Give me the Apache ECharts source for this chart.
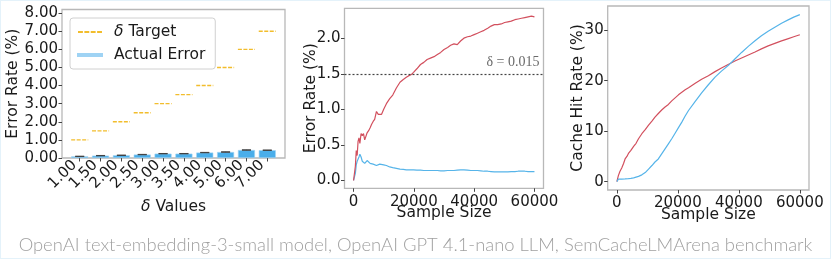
<!DOCTYPE html>
<html>
<head>
<meta charset="utf-8">
<script src="https://cdn.jsdelivr.net/npm/echarts@6/dist/echarts.min.js"></script>
<style>
html,body{margin:0;padding:0;background:#fff;}
#c{width:831px;height:259px;}
#frame{position:absolute;left:0;top:0;width:831px;height:259px;box-sizing:border-box;border:1px solid #e4f2fa;pointer-events:none;}
</style>
</head>
<body>
<div id="c"></div>
<div id="frame"></div>
<script>
// ---- Panel 1: error rate per delta ----
const deltaLabels = ['1.00','1.50','2.00','2.50','3.00','3.50','4.00','5.00','6.00','7.00'];
const deltaTargets = [1.0,1.5,2.0,2.5,3.0,3.5,4.0,5.0,6.0,7.0];
const actualError = [0.09,0.13,0.15,0.19,0.24,0.24,0.30,0.33,0.44,0.43];
const actualErrorStd = [0.01,0.01,0.01,0.01,0.01,0.01,0.01,0.01,0.01,0.01];
const yTicks1 = [0,1,2,3,4,5,6,7,8];

// ---- Panel 2: cumulative error rate vs sample size ----
const errSamples = [0,300,600,900,1200,1500,1800,2100,2500,2900,3300,3700,4100,4500,5000,5500,6000,6500,7000,7600,8200,8700,9300,10000,10900,12000,13000,14200,15400,16500,17500,18200,19200,19900,21000,22200,23300,24400,25500,26700,27800,28900,30000,31200,32200,33300,34400,35500,36600,37800,38900,40000,41100,42200,43300,44500,45600,46700,47800,49000,50100,51200,52300,53500,54600,55700,56800,57900,59000,60000];
const errRed = [0,0.02,0.2,0.42,0.35,0.55,0.6,0.52,0.66,0.63,0.66,0.57,0.62,0.67,0.70,0.74,0.79,0.83,0.86,0.97,0.93,0.95,0.93,1.0,1.08,1.15,1.2,1.3,1.38,1.42,1.45,1.47,1.49,1.52,1.57,1.63,1.66,1.70,1.72,1.74,1.77,1.80,1.84,1.87,1.90,1.92,1.91,1.96,2.0,2.02,2.03,2.05,2.07,2.09,2.11,2.14,2.17,2.19,2.19,2.20,2.22,2.23,2.24,2.26,2.27,2.28,2.29,2.30,2.31,2.30];
const errBlue = [0,0.0,0.1,0.22,0.27,0.26,0.33,0.37,0.33,0.27,0.28,0.24,0.24,0.28,0.26,0.24,0.22,0.23,0.22,0.21,0.22,0.23,0.235,0.22,0.21,0.19,0.18,0.17,0.16,0.155,0.15,0.15,0.15,0.15,0.145,0.145,0.14,0.14,0.14,0.14,0.14,0.135,0.135,0.14,0.14,0.14,0.145,0.15,0.15,0.145,0.14,0.14,0.14,0.135,0.13,0.13,0.125,0.12,0.12,0.12,0.12,0.12,0.125,0.125,0.13,0.13,0.13,0.125,0.125,0.125];
const deltaLine = 1.5;
const deltaLineLabel = 'δ = 0.015';
const yTicks2 = [0,0.5,1.0,1.5,2.0];
const xTicks = [0,20000,40000,60000];

// ---- Panel 3: cache hit rate vs sample size ----
const hitSamples = [0,500,1000,1600,2200,2700,3300,3800,4600,5500,6300,7100,8200,9300,10400,11500,12500,13600,14700,15800,16900,18000,19100,20200,21300,22400,23500,25700,27800,30000,32200,34300,36500,38700,40900,43100,45300,47400,49600,51800,54000,56000,58000,60000];
const hitRed = [0,1.2,2.0,2.7,3.6,4.5,5.0,5.6,6.2,7.0,7.6,8.5,9.5,10.3,11.2,12.0,12.8,13.5,14.2,14.8,15.3,16.0,16.6,17.2,17.7,18.2,18.6,19.5,20.3,21.0,21.8,22.5,23.2,23.9,24.5,25.1,25.7,26.3,26.9,27.4,27.9,28.3,28.7,29.1];
const hitBlue = [0,0.5,0.5,0.52,0.53,0.55,0.58,0.6,0.65,0.75,0.9,1.05,1.35,1.8,2.5,3.2,3.9,4.5,5.5,6.5,7.5,8.5,9.6,10.7,11.8,13.0,14.1,15.9,17.6,19.2,20.7,21.9,23.0,24.3,25.6,26.8,27.9,28.9,29.8,30.6,31.4,32.0,32.6,33.1];
const yTicks3 = [0,10,20,30];

const footnote = 'OpenAI text-embedding-3-small model, OpenAI GPT 4.1-nano LLM, SemCacheLMArena benchmark';

const RED = '#d2505e', BLUE = '#56b4e9', GOLD = '#f2bd2c', BARBLUE = '#4aaeea';
const FONT = 'DejaVu Sans';
const TICK = {fontFamily: FONT, fontSize: 15, color: '#1a1a1a'};
const NAME = {fontFamily: FONT, fontSize: 15.5, color: '#1a1a1a'};
const tickStyle = {show: true, length: 3.5, lineStyle: {color: '#444', width: 1}};
const noLine = {show: false, onZero: false};

function zip(xs, ys){ return xs.map((x,i)=>[x, ys[i]]); }

const catIdx = deltaLabels.map((d,i)=>i);
const evenIdx = catIdx.filter(i => i % 2 === 0);
const oddIdx = catIdx.filter(i => i % 2 === 1);

function deltaAxis(vals, withName){
  const ax = {
    gridIndex: 0, type: 'value', min: -0.85, max: 9.85, position: 'bottom', offset: 0,
    axisLine: noLine, splitLine: {show: false},
    axisTick: Object.assign({customValues: vals}, tickStyle),
    axisLabel: Object.assign({customValues: vals, rotate: 45, margin: 10, hideOverlap: false,
      verticalAlign: 'bottom', formatter: v => deltaLabels[Math.round(v)]}, TICK)
  };
  if (withName) {
    Object.assign(ax, {
      name: '{i|δ}{n| Values}', nameLocation: 'middle', nameGap: 41, nameMoveOverlap: false,
      nameTextStyle: Object.assign({rich: {i: Object.assign({fontStyle: 'italic'}, NAME), n: NAME}}, NAME)
    });
  }
  return ax;
}

const chart = echarts.init(document.getElementById('c'), null, {renderer: 'canvas'});

const gridBase = {show: true, borderColor: '#b8b8b8', borderWidth: 1.3, backgroundColor: 'transparent', containLabel: false};

const option = {
  animation: false,
  backgroundColor: '#fff',
  textStyle: {fontFamily: FONT},
  title: {
    text: footnote, left: 'center', top: 231,
    textStyle: {fontFamily: 'Lato', fontWeight: 300, fontSize: 18.4, color: '#a0a0a0'}
  },
  grid: [
    Object.assign({left: 62, top: 9.5, width: 223, height: 148.5}, gridBase),
    Object.assign({left: 344.5, top: 8.3, width: 199, height: 180}, gridBase),
    Object.assign({left: 607.7, top: 6, width: 201.3, height: 184}, gridBase)
  ],
  legend: {
    orient: 'vertical', left: 70, top: 18,
    padding: [6, 10, 6, 7],
    backgroundColor: '#fff', borderColor: '#d0d0d0', borderWidth: 1, borderRadius: 3,
    itemWidth: 24, itemHeight: 2, itemGap: 7, symbolKeepAspect: false,
    textStyle: {fontFamily: FONT, fontSize: 15.5, color: '#1a1a1a', lineHeight: 16, padding: [0,0,0,7],
      rich: {i: {fontStyle: 'italic', fontFamily: FONT, fontSize: 15.5, color: '#1a1a1a', lineHeight: 16}, n: {fontFamily: FONT, fontSize: 15.5, color: '#1a1a1a', lineHeight: 16}}},
    formatter: function(n){ return n.indexOf('δ') === 0 ? '{i|δ}{n|' + n.slice(1) + '}' : n; },
    data: [
      {name: 'δ Target', icon: 'path://M0,0h5v2h-5zM6.5,0h5v2h-5zM13,0h5v2h-5zM19.5,0h5v2h-5z', itemStyle: {color: GOLD}},
      {name: 'Actual Error', icon: 'rect', itemStyle: {color: BLUE}}
    ]
  },
  xAxis: [
    deltaAxis(evenIdx, true),
    {
      gridIndex: 1, type: 'value', min: -3000, max: 63000,
      axisLine: noLine, splitLine: {show: false},
      axisTick: Object.assign({customValues: xTicks}, tickStyle),
      axisLabel: Object.assign({customValues: xTicks, margin: 6, showMinLabel: true, showMaxLabel: true, formatter: v => String(v)}, TICK),
      name: 'Sample Size', nameLocation: 'middle', nameGap: 16.5, nameMoveOverlap: false, nameTextStyle: NAME
    },
    {
      gridIndex: 2, type: 'value', min: -3000, max: 63000,
      axisLine: noLine, splitLine: {show: false},
      axisTick: Object.assign({customValues: xTicks}, tickStyle),
      axisLabel: Object.assign({customValues: xTicks, margin: 6, showMinLabel: true, showMaxLabel: true, formatter: v => String(v)}, TICK),
      name: 'Sample Size', nameLocation: 'middle', nameGap: 17, nameMoveOverlap: false, nameTextStyle: NAME
    },
    deltaAxis(oddIdx, false)
  ],
  yAxis: [
    {
      gridIndex: 0, type: 'value', min: 0, max: 8.2,
      axisLine: noLine, splitLine: {show: false},
      axisTick: Object.assign({customValues: yTicks1}, tickStyle),
      axisLabel: Object.assign({customValues: yTicks1, margin: 4, showMinLabel: true, showMaxLabel: true, formatter: v => v.toFixed(2)}, TICK),
      name: 'Error Rate (%)', nameLocation: 'middle', nameGap: 41, nameMoveOverlap: false, nameTextStyle: NAME
    },
    {
      gridIndex: 1, type: 'value', min: -0.11, max: 2.42,
      axisLine: noLine, splitLine: {show: false},
      axisTick: Object.assign({customValues: yTicks2}, tickStyle),
      axisLabel: Object.assign({customValues: yTicks2, margin: 4, showMinLabel: true, showMaxLabel: true, formatter: v => v.toFixed(1)}, TICK),
      name: 'Error Rate (%)', nameLocation: 'middle', nameGap: 25.5, nameMoveOverlap: false, nameTextStyle: NAME
    },
    {
      gridIndex: 2, type: 'value', min: -1.65, max: 34.8,
      axisLine: noLine, splitLine: {show: false},
      axisTick: Object.assign({customValues: yTicks3}, tickStyle),
      axisLabel: Object.assign({customValues: yTicks3, margin: 4, showMinLabel: true, showMaxLabel: true, formatter: v => String(v)}, TICK),
      name: 'Cache Hit Rate (%)', nameLocation: 'middle', nameGap: 21.5, nameMoveOverlap: false, nameTextStyle: NAME
    }
  ],
  series: [
    {
      name: 'Actual Error', type: 'bar', xAxisIndex: 0, yAxisIndex: 0,
      data: actualError.map((v,i)=>[i, v]), barWidth: 17,
      itemStyle: {color: BARBLUE, borderColor: '#9fd3f4', borderWidth: 0.6}, z: 2
    },
    {
      name: 'errbar', type: 'custom', xAxisIndex: 0, yAxisIndex: 0, z: 3,
      data: actualError.map((v,i)=>[i, v - actualErrorStd[i], v + actualErrorStd[i]]),
      renderItem: function(params, api){
        const x = api.value(0);
        const lo = api.coord([x, api.value(1)]), hi = api.coord([x, api.value(2)]);
        const st = {stroke: '#404040', lineWidth: 1};
        return {type: 'group', children: [
          {type: 'line', shape: {x1: lo[0], y1: lo[1], x2: hi[0], y2: hi[1]}, style: st},
          {type: 'line', shape: {x1: lo[0]-4.5, y1: lo[1], x2: lo[0]+4.5, y2: lo[1]}, style: st},
          {type: 'line', shape: {x1: hi[0]-4.5, y1: hi[1], x2: hi[0]+4.5, y2: hi[1]}, style: st}
        ]};
      }
    },
    {
      name: 'δ Target', type: 'custom', xAxisIndex: 0, yAxisIndex: 0, z: 4,
      itemStyle: {color: GOLD},
      data: deltaTargets.map((v,i)=>[i, v]),
      renderItem: function(params, api){
        const i = api.value(0), v = api.value(1);
        const a = api.coord([i - 0.41, v]), b = api.coord([i + 0.41, v]);
        return {type: 'line', shape: {x1: a[0], y1: a[1], x2: b[0], y2: b[1]},
          style: {stroke: GOLD, lineWidth: 1.4, lineDash: [4, 1.5]}};
      }
    },
    {
      type: 'line', xAxisIndex: 1, yAxisIndex: 1, data: zip(errSamples, errRed),
      showSymbol: false, symbol: 'none', lineStyle: {color: RED, width: 1.2}, itemStyle: {color: RED}, z: 3,
      markLine: {
        silent: true, symbol: ['none','none'],
        lineStyle: {color: '#444', type: [2,2], width: 1.2},
        label: {show: true, position: 'insideEndTop', formatter: deltaLineLabel, fontFamily: 'Liberation Serif', fontSize: 14, color: '#6a6a6a', distance: [4, 4]},
        data: [{yAxis: deltaLine}]
      }
    },
    {
      type: 'line', xAxisIndex: 1, yAxisIndex: 1, data: zip(errSamples, errBlue),
      showSymbol: false, symbol: 'none', lineStyle: {color: BLUE, width: 1.2}, itemStyle: {color: BLUE}, z: 2
    },
    {
      type: 'line', xAxisIndex: 2, yAxisIndex: 2, data: zip(hitSamples, hitRed),
      showSymbol: false, symbol: 'none', lineStyle: {color: RED, width: 1.2}, itemStyle: {color: RED}
    },
    {
      type: 'line', xAxisIndex: 2, yAxisIndex: 2, data: zip(hitSamples, hitBlue),
      showSymbol: false, symbol: 'none', lineStyle: {color: BLUE, width: 1.2}, itemStyle: {color: BLUE}
    }
  ]
};
chart.setOption(option);
</script>
</body>
</html>
